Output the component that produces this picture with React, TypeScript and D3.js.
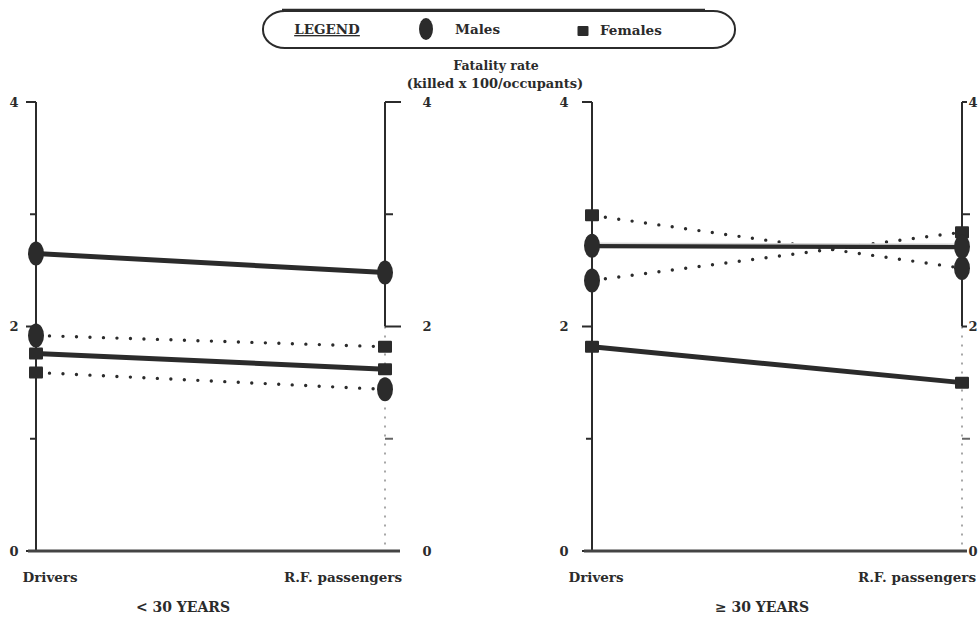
import * as d3 from 'd3';

// x categories and the two age groups
const categories = ['Drivers', 'R.F. passengers'];
const groups = ['< 30 YEARS', '≥ 30 YEARS'];
const yTicks = [0, 1, 2, 3, 4];
const yLabels = [0, 2, 4];

// fatality rate (killed x 100/occupants), [drivers, R.F. passengers]
// marker per end: 'm' = males (ellipse), 'f' = females (square)
const young = [
  { style: 'solid', values: [2.65, 2.48], markers: ['m', 'm'] },
  { style: 'solid', values: [1.76, 1.62], markers: ['f', 'f'] },
  { style: 'dotted', values: [1.92, 1.82], markers: ['m', 'f'] },
  { style: 'dotted', values: [1.59, 1.44], markers: ['f', 'm'] },
];
const older = [
  { style: 'dotted', values: [2.99, 2.52], markers: ['f', 'm'] },
  { style: 'dotted', values: [2.41, 2.84], markers: ['m', 'f'] },
  { style: 'double', values: [2.72, 2.71], markers: ['m', 'm'] },
  { style: 'solid', values: [1.82, 1.5], markers: ['f', 'f'] },
];

const INK = '#2b2b2b';
const FONT = '"DejaVu Serif", "Liberation Serif", serif';

const y = d3.scaleLinear().domain([0, 4]).range([551, 102]);

function Marker({ kind, cx, cy, big = false }) {
  if (kind === 'm') {
    return <ellipse cx={cx} cy={cy} rx={big ? 7 : 8} ry={big ? 11 : 12} fill={INK} />;
  }
  const w = big ? 11 : 14;
  const h = big ? 10 : 12;
  return <rect x={cx - w / 2} y={cy - h / 2} width={w} height={h} fill={INK} rx={1} />;
}

function Label({ x, y: ty, size = 13.5, anchor = 'middle', children, ...rest }) {
  return (
    <text x={x} y={ty} textAnchor={anchor} fontFamily={FONT} fontWeight="bold" fontSize={size} fill={INK} {...rest}>
      {children}
    </text>
  );
}

function Panel({ series, range, title, leftLabelDx, rightLabelDx, rightTick, driverDx, rfDx, titleX }) {
  const x = d3.scalePoint().domain(categories).range(range);
  const x0 = range[0];
  const x1 = range[1];
  const line = d3.line().x((d) => d[0]).y((d) => d[1]);

  return (
    <g>
      {/* left axis */}
      <line x1={x0} x2={x0} y1={y(4)} y2={y(0)} stroke={INK} strokeWidth={2} />
      {yTicks.map((t) => (
        <line key={'lt' + t} x1={x0 - (t === 1 || t === 3 ? 6 : 10)} x2={x0} y1={y(t)} y2={y(t)} stroke={INK} strokeWidth={2} />
      ))}
      {yLabels.map((t) => (
        <Label key={'ll' + t} x={x0 - leftLabelDx} y={y(t)} dy="0.35em" size={13}>{t}</Label>
      ))}

      {/* right axis: solid above 2, faint dotted below */}
      <line x1={x1} x2={x1} y1={y(4)} y2={y(2)} stroke={INK} strokeWidth={2} />
      <line x1={x1} x2={x1} y1={y(2)} y2={y(0)} stroke="#8a8a8a" strokeWidth={1.5} strokeDasharray="2,7" />
      {[4, 3, 2, 1].map((t) => (
        <line key={'rt' + t} x1={x1} x2={x1 + (t === 1 || t === 3 ? 8 : rightTick)} y1={y(t)} y2={y(t)} stroke={t === 1 ? '#666' : INK} strokeWidth={2} />
      ))}
      {yLabels.map((t) => (
        <Label key={'rl' + t} x={x1 + rightLabelDx} y={y(t)} dy="0.35em" size={13}>{t}</Label>
      ))}

      {/* baseline */}
      <line x1={x0 - 8} x2={x1 + Math.min(15, rightTick)} y1={y(0)} y2={y(0)} stroke="#444" strokeWidth={3} />

      {/* series lines */}
      {series.map((s, i) => {
        const pts = categories.map((c, j) => [x(c), y(s.values[j])]);
        if (s.style === 'dotted') {
          return <path key={'s' + i} d={line(pts)} fill="none" stroke={INK} strokeWidth={3.4} strokeLinecap="round" strokeDasharray="0,13.5" />;
        }
        return (
          <g key={'s' + i}>
            <path d={line(pts)} fill="none" stroke={INK} strokeWidth={5} />
            {s.style === 'double' && (
              <path d={line(pts)} fill="none" stroke="#d8d8d8" strokeWidth={1.5} transform="translate(0,-2.5)" />
            )}
          </g>
        );
      })}

      {/* markers */}
      {series.map((s, i) =>
        categories.map((c, j) => (
          <Marker key={'m' + i + j} kind={s.markers[j]} cx={x(c)} cy={y(s.values[j])} />
        ))
      )}

      {/* category labels */}
      <Label x={x(categories[0]) + driverDx} y={582}>{categories[0]}</Label>
      <Label x={x(categories[1]) - rfDx} y={582}>{categories[1]}</Label>
      <Label x={titleX} y={612} size={14}>{title}</Label>
    </g>
  );
}

export default function App() {
  return (
    <svg width={979} height={617} style={{ position: 'absolute', left: 0, top: 0, background: '#fff' }}>
      {/* legend */}
      <line x1={282} x2={705} y1={10} y2={10} stroke={INK} strokeWidth={2.5} />
      <rect x={263} y={11} width={472} height={37} rx={22} ry={18} fill="none" stroke={INK} strokeWidth={2} />
      <Label x={327} y={34} size={13.5} textDecoration="underline">LEGEND</Label>
      <Marker kind="m" cx={426} cy={29} big />
      <Label x={455} y={34} size={13.5} anchor="start">Males</Label>
      <Marker kind="f" cx={583} cy={31} big />
      <Label x={600} y={35} size={13.5} anchor="start">Females</Label>

      {/* axis title */}
      <Label x={496} y={70} size={12.5}>Fatality rate</Label>
      <Label x={495} y={88} size={13}>(killed x 100/occupants)</Label>

      <Panel series={young} range={[36, 385]} title={groups[0]} leftLabelDx={22} rightLabelDx={42} rightTick={16} driverDx={14} rfDx={42} titleX={183} />
      <Panel series={older} range={[592, 962]} title={groups[1]} leftLabelDx={28} rightLabelDx={11} rightTick={5} driverDx={4} rfDx={45} titleX={762} />
    </svg>
  );
}
